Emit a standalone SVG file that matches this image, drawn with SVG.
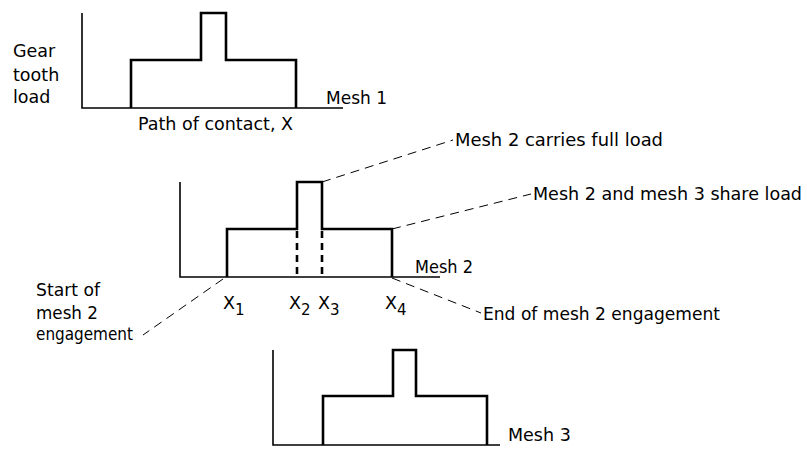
<svg xmlns="http://www.w3.org/2000/svg" width="807" height="449" viewBox="0 0 807 449">
<style>
  text { font-family: "DejaVu Sans", "Liberation Sans", sans-serif; font-size: 17.5px; fill: #000; }
  .sub { font-size: 15px; }
  .axis { fill: none; stroke: #000; stroke-width: 1.6; }
  .curve { fill: none; stroke: #000; stroke-width: 2.6; stroke-linejoin: miter; }
  .vdash { fill: none; stroke: #000; stroke-width: 2.6; stroke-dasharray: 7 5; }
  .leader { fill: none; stroke: #000; stroke-width: 1; stroke-dasharray: 9 6; }
</style>
<rect width="807" height="449" fill="#fff"/>

<g id="mesh1">
  <path class="axis" d="M82,13 V108 H343"/>
  <path class="curve" d="M131,108 V60 H201 V13 H226 V60 H296 V108"/>
  <text x="13" y="57">Gear</text>
  <text x="13" y="81">tooth</text>
  <text x="13" y="103">load</text>
  <text x="326" y="104" textLength="61" lengthAdjust="spacingAndGlyphs">Mesh 1</text>
  <text x="138" y="130" textLength="155" lengthAdjust="spacingAndGlyphs">Path of contact, X</text>
</g>

<g id="mesh2">
  <path class="axis" d="M180,182 V277 H440"/>
  <path class="curve" d="M227,277 V229 H297 V182 H322 V229 H392 V277"/>
  <path class="vdash" d="M297,231 V277 M322,231 V277"/>
  <text x="415" y="273" textLength="58" lengthAdjust="spacingAndGlyphs">Mesh 2</text>
  <text x="223" y="309">X<tspan class="sub" dy="6">1</tspan></text>
  <text x="289" y="309">X<tspan class="sub" dy="6">2</tspan></text>
  <text x="318" y="309">X<tspan class="sub" dy="6">3</tspan></text>
  <text x="385" y="309">X<tspan class="sub" dy="6">4</tspan></text>
</g>

<g id="mesh3">
  <path class="axis" d="M273,350 V445 H500"/>
  <path class="curve" d="M323,445 V396 H393 V350 H416 V396 H487 V445"/>
  <text x="508" y="441">Mesh 3</text>
</g>

<g id="label-full-load">
  <text x="455" y="146" textLength="208" lengthAdjust="spacingAndGlyphs">Mesh 2 carries full load</text>
</g>
<g id="label-share-load">
  <text x="533" y="200" textLength="269" lengthAdjust="spacingAndGlyphs">Mesh 2 and mesh 3 share load</text>
</g>
<g id="label-end">
  <text x="483" y="320" textLength="237" lengthAdjust="spacingAndGlyphs">End of mesh 2 engagement</text>
</g>
<g id="label-start">
  <text x="36" y="296" textLength="64" lengthAdjust="spacingAndGlyphs">Start of</text>
  <text x="36" y="319" textLength="62" lengthAdjust="spacingAndGlyphs">mesh 2</text>
  <text x="36" y="340" textLength="97" lengthAdjust="spacingAndGlyphs">engagement</text>
</g>

<g id="connectors">
  <line class="leader" x1="322" y1="182" x2="453" y2="140"/>
  <line class="leader" x1="392" y1="229" x2="531" y2="194"/>
  <line class="leader" x1="392" y1="278" x2="481" y2="313"/>
  <line class="leader" x1="223" y1="279" x2="143" y2="335"/>
</g>
</svg>
